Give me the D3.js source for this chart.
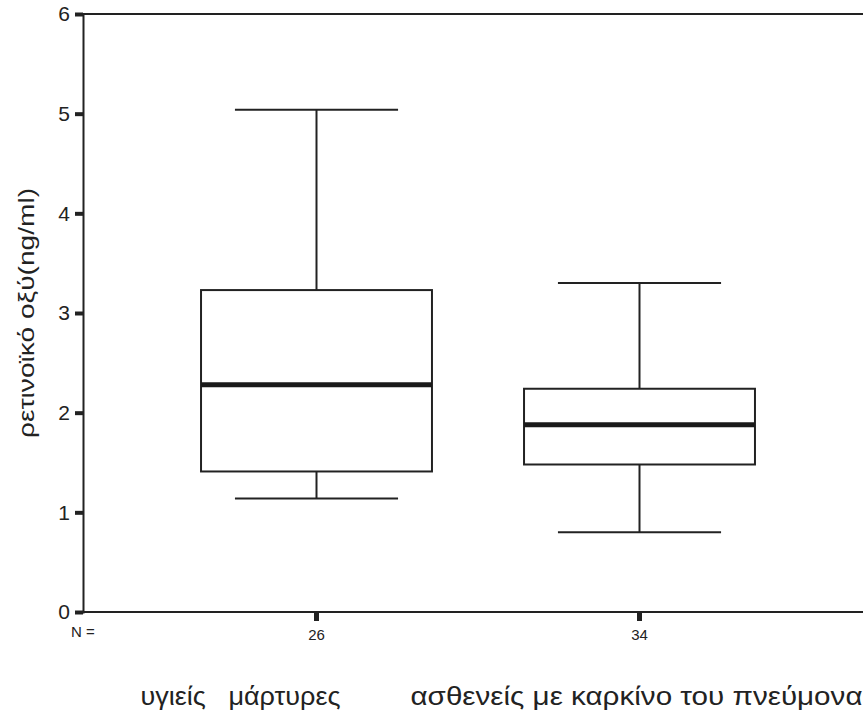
<!DOCTYPE html>
<html lang="el">
<head>
  <meta charset="UTF-8" />
  <title>ρετινοϊκό οξύ</title>
  <style>
    html, body {
      margin: 0;
      background: #fff;
      font-family: "Liberation Sans", Arial, sans-serif;
    }
    svg { display: block; }
    .box { fill: #fff; stroke: #222; stroke-width: 2; }
    .whisker { stroke: #222; stroke-width: 2; }
    .median { stroke: #1a1a1a; stroke-width: 5; }
  </style>
  <script src="https://d3js.org/d3.v7.min.js"></script>
</head>
<body>
  <svg id="chart" width="863" height="719"></svg>
  <script>
    // box plot data
    const categories = ["υγιείς   μάρτυρες", "ασθενείς με καρκίνο του πνεύμονα"];
    const counts = [26, 34];
    const whiskerLow = [1.14, 0.80];
    const q1 = [1.41, 1.48];
    const median = [2.28, 1.88];
    const q3 = [3.23, 2.24];
    const whiskerHigh = [5.04, 3.30];
    const yTicks = [0, 1, 2, 3, 4, 5, 6];

    const width = 863, height = 719;
    const plotLeft = 83, plotTop = 14, plotBottom = 612;
    const font = "Liberation Sans, Arial, sans-serif";

    const svg = d3.select("#chart");

    const y = d3.scaleLinear().domain([0, 6]).range([plotBottom, plotTop]);
    const x = d3.scaleBand().domain(categories).range([155, 801]);
    const bw = x.bandwidth();
    const cx = c => x(c) + bw / 2;

    // frame: top line and bottom line run to the right edge
    svg.append("line").attr("x1", plotLeft).attr("x2", width).attr("y1", y(6)).attr("y2", y(6))
      .attr("stroke", "#222").attr("stroke-width", 2);
    svg.append("line").attr("x1", plotLeft).attr("x2", width).attr("y1", y(0)).attr("y2", y(0))
      .attr("stroke", "#222").attr("stroke-width", 2);

    const yAxis = svg.append("g")
      .attr("transform", `translate(${plotLeft},0)`)
      .attr("font-family", font).attr("font-size", 21)
      .call(d3.axisLeft(y).tickValues(yTicks).tickSize(8).tickPadding(5).tickFormat(d3.format("d")));
    yAxis.attr("font-family", font).attr("font-size", 21);
    yAxis.select(".domain").attr("stroke", "#222").attr("stroke-width", 2);
    yAxis.selectAll(".tick line").attr("stroke", "#222").attr("stroke-width", 4);
    yAxis.selectAll(".tick text").attr("fill", "#222");

    // x ticks with N labels
    const xAxis = svg.append("g")
      .attr("transform", `translate(0,${plotBottom})`)
      .call(d3.axisBottom(x).tickSize(9).tickPadding(8)
        .tickFormat((d, i) => counts[i]));
    xAxis.attr("font-family", font).attr("font-size", 15);
    xAxis.select(".domain").remove();
    xAxis.selectAll(".tick line").attr("stroke", "#222").attr("stroke-width", 5);
    xAxis.selectAll(".tick text").attr("fill", "#222");

    svg.append("text").attr("x", 71).attr("y", 637)
      .attr("text-anchor", "start").attr("font-family", font).attr("font-size", 15).attr("fill", "#222")
      .text("N =");

    // category labels under the axis
    const labelOffsets = [-76, -3];
    const labelWidths = [200, 452];
    svg.selectAll(".cat")
      .data(categories)
      .join("text")
      .attr("class", "cat")
      .attr("x", (d, i) => cx(d) + labelOffsets[i])
      .attr("y", 705)
      .attr("text-anchor", "middle")
      .attr("font-family", font)
      .attr("font-size", 25)
      .attr("fill", "#222")
      .attr("textLength", (d, i) => labelWidths[i])
      .attr("lengthAdjust", "spacingAndGlyphs")
      .style("white-space", "pre")
      .text(d => d);

    // y axis title
    svg.append("text")
      .attr("transform", `translate(34,${y(3)}) rotate(-90)`)
      .attr("text-anchor", "middle")
      .attr("font-family", font)
      .attr("font-size", 22)
      .attr("fill", "#222")
      .attr("textLength", 250)
      .attr("lengthAdjust", "spacingAndGlyphs")
      .text("ρετινοϊκό οξύ(ng/ml)");

    // boxes
    const g = svg.append("g");
    categories.forEach((c, i) => {
      const xc = cx(c);
      const boxW = bw * 0.715, capW = bw * 0.505;
      g.append("line").attr("class", "whisker")
        .attr("x1", xc).attr("x2", xc).attr("y1", y(whiskerHigh[i])).attr("y2", y(q3[i]));
      g.append("line").attr("class", "whisker")
        .attr("x1", xc).attr("x2", xc).attr("y1", y(q1[i])).attr("y2", y(whiskerLow[i]));
      g.append("line").attr("class", "whisker")
        .attr("x1", xc - capW / 2).attr("x2", xc + capW / 2)
        .attr("y1", y(whiskerHigh[i])).attr("y2", y(whiskerHigh[i]));
      g.append("line").attr("class", "whisker")
        .attr("x1", xc - capW / 2).attr("x2", xc + capW / 2)
        .attr("y1", y(whiskerLow[i])).attr("y2", y(whiskerLow[i]));
      g.append("rect").attr("class", "box")
        .attr("x", xc - boxW / 2).attr("width", boxW)
        .attr("y", y(q3[i])).attr("height", y(q1[i]) - y(q3[i]));
      g.append("line").attr("class", "median")
        .attr("x1", xc - boxW / 2).attr("x2", xc + boxW / 2)
        .attr("y1", y(median[i])).attr("y2", y(median[i]));
    });
  </script>
</body>
</html>
